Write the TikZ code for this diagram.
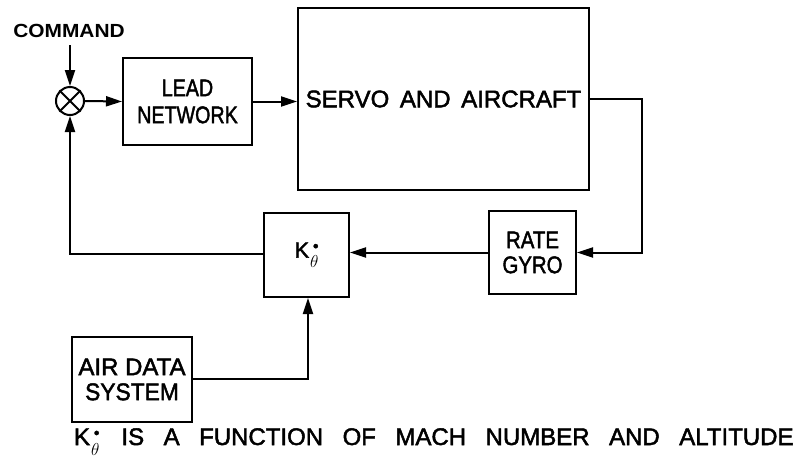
\documentclass[tikz,border=0pt]{standalone}
\usepackage{fontspec}
\setmainfont{Liberation Sans}[FakeBold=2]
\newfontfamily\cmdfont{Liberation Sans Bold}
\usetikzlibrary{arrows.meta}
\newcommand\Kthd{K\kern1pt\raisebox{-0.45em}{\fontsize{19}{19}\selectfont$\theta$}\kern-5.5pt\raisebox{0.28em}{\fontsize{16}{16}\selectfont\textbullet}}
\begin{document}
\begin{tikzpicture}[x=1pt,y=-1pt,
  line width=2pt,
  blk/.style={draw,line width=2pt,inner sep=0pt,align=center,font=\fontsize{24}{27}\selectfont},
  sig/.style={-{Triangle[length=16pt,width=10pt]},line width=2pt}
]
\useasboundingbox (0,0) rectangle (801,467);
% nodes
\node (cmd) at (69,31) {\cmdfont\fontsize{19}{20}\selectfont\scalebox{1.1}[1]{COMMAND}};
\node[draw,circle,minimum size=28pt,inner sep=0pt,line width=2pt] (sum) at (70,101) {};
\draw[line width=1.8pt] (sum.north west) -- (sum.south east) (sum.north east) -- (sum.south west);
\node[blk,minimum width=129pt,minimum height=87pt] (lead) at (187.5,101.5) {\scalebox{0.82}[1]{LEAD}\\\scalebox{0.82}[1]{NETWORK}};
\node[blk,minimum width=291pt,minimum height=182pt] (servo) at (443.5,99) {SERVO\, AND\, AIRCRAFT};
\node[blk,minimum width=87pt,minimum height=83pt] (gyro) at (532.5,252.5) {\scalebox{0.85}[1]{RATE}\\[-2pt]\scalebox{0.85}[1]{GYRO}};
\node[blk,minimum width=85pt,minimum height=84pt,font=\fontsize{22}{24}\selectfont] (kth) at (306.5,255) {\Kthd};
\node[blk,minimum width=120pt,minimum height=85pt] (air) at (132,379.5) {AIR DATA\\[-2pt]\scalebox{0.95}[1]{SYSTEM}};
\node[anchor=base west,inner sep=0pt,font=\fontsize{24}{26}\selectfont] (note) at (73,445) {\Kthd\hspace{22pt}IS\hspace{19.5pt}A\hspace{19.5pt}FUNCTION\hspace{19.5pt}OF\hspace{19.5pt}MACH\hspace{19.5pt}NUMBER\hspace{19.5pt}AND\hspace{19.5pt}ALTITUDE};
% connectors
\coordinate (loopR) at (642,99);
\coordinate (fbL) at (70,254);
\coordinate (airC) at (308,379);
\coordinate (c0) at (70,45);
\draw[sig] (c0) -- (sum.north);
\draw[sig] (sum.east) -- (lead.west);
\draw[sig] (lead.east) -- (servo.west |- lead.east);
\draw[sig] (servo.east |- loopR) -- (loopR) |- (gyro.east);
\draw[sig] (gyro.west) -- (kth.east |- gyro.west);
\draw[sig] (kth.west |- fbL) -- (fbL) -- (sum.south);
\draw[sig] (air.east |- airC) -- (airC) -- (kth.south -| airC);
\end{tikzpicture}
\end{document}
